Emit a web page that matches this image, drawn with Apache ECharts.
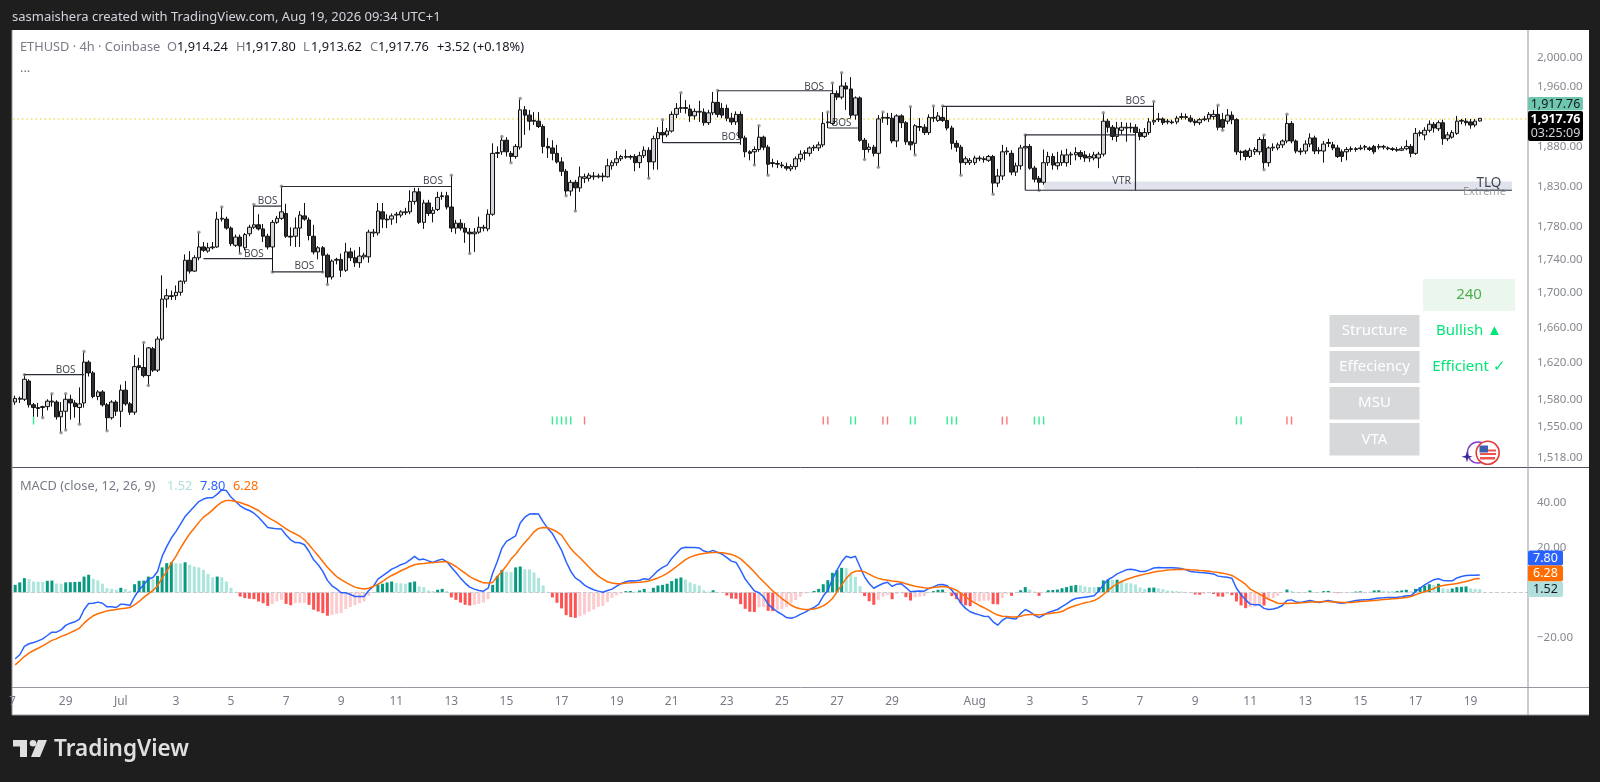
<!DOCTYPE html>
<html><head><meta charset="utf-8">
<style>html,body{margin:0;padding:0;background:#1e1e1e}#c{width:1600px;height:782px}</style>
<script src="https://cdn.jsdelivr.net/npm/echarts@6/dist/echarts.min.js"></script>
</head><body><div id="c"></div>
<script>
// [open, close, low, high] for each 4h candle, starting Jun 27 04:00
const candles = [
[1577,1581,1574,1584],[1580,1581,1576,1583],[1580,1602,1578,1607],[1600,1574,1571,1602],[1574,1571,1561,1576],[1570,1571,1561,1576],[1571,1572,1560,1573],[1572,1578,1568,1580],[1577,1578,1572,1586],[1577,1561,1558,1579],
[1561,1567,1544,1577],[1567,1580,1547,1586],[1580,1576,1558,1585],[1576,1572,1560,1579],[1571,1575,1553,1593],[1576,1621,1571,1633],[1621,1609,1605,1623],[1609,1583,1581,1611],[1583,1588,1579,1590],[1588,1574,1572,1590],
[1574,1560,1546,1576],[1560,1577,1558,1579],[1577,1567,1562,1579],[1567,1590,1550,1596],[1590,1575,1573,1600],[1575,1566,1563,1577],[1566,1616,1563,1629],[1617,1615,1612,1626],[1615,1606,1604,1643],[1606,1637,1595,1638],
[1636,1612,1610,1638],[1612,1647,1610,1650],[1647,1693,1645,1721],[1693,1697,1683,1705],[1696,1697,1692,1703],[1697,1701,1692,1709],[1701,1714,1697,1715],[1714,1739,1711,1746],[1739,1726,1723,1750],[1726,1742,1725,1745],
[1742,1755,1739,1773],[1755,1751,1749,1761],[1750,1754,1748,1760],[1754,1755,1752,1761],[1755,1789,1754,1798],[1789,1790,1786,1804],[1789,1778,1776,1792],[1778,1759,1756,1780],[1757,1767,1755,1770],[1767,1756,1747,1770],
[1754,1770,1751,1772],[1771,1779,1768,1782],[1779,1782,1777,1807],[1782,1777,1775,1795],[1777,1768,1761,1783],[1768,1755,1752,1771],[1755,1785,1725,1788],[1785,1790,1783,1793],[1790,1798,1788,1830],[1796,1768,1766,1808],
[1768,1767,1756,1779],[1768,1778,1755,1791],[1778,1794,1755,1799],[1793,1789,1787,1809],[1788,1769,1763,1791],[1768,1749,1746,1782],[1749,1754,1740,1756],[1754,1745,1725,1756],[1745,1719,1710,1747],[1719,1738,1716,1740],
[1739,1740,1734,1742],[1740,1727,1719,1747],[1727,1749,1725,1760],[1749,1742,1738,1754],[1742,1736,1731,1751],[1736,1744,1730,1755],[1743,1745,1740,1748],[1743,1773,1736,1776],[1772,1773,1767,1777],[1772,1799,1769,1809],
[1798,1789,1778,1809],[1789,1788,1778,1795],[1789,1793,1782,1796],[1794,1795,1784,1798],[1794,1798,1791,1800],[1797,1798,1794,1803],[1798,1811,1795,1825],[1811,1823,1807,1828],[1823,1785,1783,1828],[1785,1809,1777,1813],
[1809,1796,1793,1813],[1796,1800,1785,1804],[1801,1816,1799,1823],[1817,1818,1813,1823],[1818,1804,1801,1823],[1804,1778,1773,1844],[1778,1784,1771,1788],[1784,1778,1775,1789],[1778,1773,1760,1784],[1773,1771,1747,1778],
[1771,1773,1749,1778],[1773,1779,1771,1792],[1778,1779,1774,1782],[1777,1795,1774,1801],[1795,1872,1793,1885],[1872,1873,1866,1881],[1874,1889,1870,1894],[1889,1874,1868,1893],[1872,1868,1860,1875],[1868,1881,1865,1884],
[1880,1929,1877,1944],[1929,1922,1896,1934],[1922,1914,1902,1929],[1915,1914,1909,1926],[1914,1907,1905,1926],[1907,1881,1872,1910],[1881,1879,1866,1892],[1879,1872,1863,1889],[1872,1861,1859,1883],[1861,1849,1843,1867],
[1849,1824,1818,1852],[1824,1835,1818,1838],[1835,1828,1799,1838],[1828,1842,1823,1855],[1840,1842,1834,1846],[1840,1844,1836,1847],[1842,1843,1838,1848],[1842,1843,1840,1846],[1843,1842,1836,1847],[1842,1856,1841,1865],
[1856,1860,1851,1863],[1860,1865,1856,1875],[1865,1868,1862,1870],[1867,1868,1865,1877],[1868,1867,1864,1870],[1868,1860,1849,1871],[1860,1869,1853,1874],[1869,1876,1866,1881],[1876,1861,1840,1880],[1861,1891,1851,1895],
[1891,1899,1851,1906],[1899,1896,1886,1916],[1896,1901,1893,1905],[1901,1923,1899,1927],[1923,1931,1918,1938],[1931,1932,1925,1952],[1932,1931,1924,1942],[1930,1921,1913,1936],[1921,1927,1916,1931],[1926,1927,1913,1941],
[1926,1912,1908,1931],[1912,1925,1909,1929],[1925,1939,1922,1953],[1939,1923,1919,1955],[1931,1922,1918,1938],[1931,1918,1914,1936],[1918,1913,1909,1925],[1913,1923,1909,1927],[1923,1892,1883,1927],[1892,1874,1867,1895],
[1874,1872,1863,1876],[1874,1877,1857,1881],[1877,1893,1874,1908],[1893,1880,1876,1895],[1880,1858,1844,1883],[1860,1859,1854,1865],[1858,1859,1853,1863],[1857,1856,1853,1861],[1855,1853,1850,1860],[1852,1855,1849,1858],
[1855,1865,1851,1868],[1865,1871,1861,1876],[1872,1873,1863,1876],[1872,1879,1868,1881],[1879,1880,1875,1883],[1879,1883,1875,1887],[1883,1911,1880,1926],[1912,1913,1905,1926],[1911,1951,1909,1965],[1951,1946,1942,1955],
[1946,1961,1943,1979],[1961,1957,1929,1966],[1957,1922,1918,1973],[1922,1945,1916,1947],[1945,1889,1887,1947],[1889,1877,1864,1892],[1877,1880,1873,1885],[1880,1872,1868,1883],[1872,1917,1854,1922],[1918,1919,1912,1926],
[1919,1918,1909,1925],[1918,1888,1885,1925],[1888,1921,1880,1923],[1921,1912,1905,1923],[1912,1887,1883,1914],[1887,1883,1876,1933],[1885,1908,1870,1910],[1907,1906,1901,1918],[1906,1899,1896,1910],[1899,1919,1896,1923],
[1918,1919,1913,1934],[1915,1921,1913,1926],[1919,1915,1913,1934],[1915,1905,1902,1933],[1905,1885,1877,1908],[1885,1880,1874,1889],[1880,1860,1844,1883],[1860,1865,1857,1868],[1860,1863,1857,1866],[1860,1866,1857,1869],
[1865,1866,1862,1869],[1865,1864,1860,1868],[1863,1868,1861,1870],[1868,1834,1820,1870],[1834,1843,1829,1852],[1843,1874,1838,1883],[1874,1875,1870,1880],[1872,1848,1844,1876],[1848,1856,1843,1860],[1856,1879,1851,1883],
[1879,1881,1875,1896],[1881,1853,1851,1884],[1853,1839,1835,1856],[1840,1835,1825,1843],[1835,1860,1832,1877],[1860,1868,1856,1874],[1868,1857,1851,1872],[1856,1860,1851,1874],[1860,1870,1856,1876],[1860,1870,1855,1878],
[1870,1871,1857,1874],[1870,1873,1863,1880],[1873,1868,1864,1876],[1870,1866,1861,1875],[1866,1868,1861,1872],[1866,1870,1863,1874],[1866,1871,1853,1874],[1871,1914,1868,1925],[1914,1906,1899,1917],[1906,1894,1889,1909],
[1894,1905,1887,1913],[1902,1906,1897,1913],[1905,1906,1887,1912],[1906,1905,1899,1912],[1906,1899,1894,1910],[1899,1894,1889,1904],[1894,1899,1892,1905],[1899,1913,1896,1918],[1913,1915,1909,1940],[1916,1917,1913,1925],
[1917,1912,1909,1919],[1913,1914,1910,1917],[1913,1912,1910,1916],[1913,1918,1910,1921],[1919,1920,1916,1925],[1920,1919,1916,1924],[1918,1914,1912,1922],[1914,1912,1908,1917],[1912,1916,1909,1918],[1916,1917,1914,1921],
[1917,1923,1913,1926],[1920,1923,1916,1929],[1923,1906,1902,1935],[1916,1906,1902,1925],[1914,1922,1910,1930],[1922,1916,1910,1927],[1916,1874,1870,1918],[1874,1873,1863,1876],[1875,1868,1863,1877],[1868,1876,1866,1879],
[1874,1877,1870,1880],[1874,1890,1870,1893],[1890,1860,1851,1896],[1860,1879,1855,1881],[1879,1880,1875,1885],[1879,1883,1876,1886],[1883,1888,1879,1890],[1888,1911,1885,1923],[1911,1888,1885,1914],[1888,1875,1872,1890],
[1875,1874,1870,1879],[1875,1884,1871,1889],[1884,1892,1880,1898],[1892,1875,1871,1895],[1875,1876,1871,1880],[1875,1884,1860,1888],[1886,1885,1880,1891],[1883,1879,1876,1887],[1879,1868,1866,1883],[1874,1868,1861,1877],
[1874,1877,1863,1880],[1877,1878,1874,1881],[1878,1877,1874,1880],[1878,1879,1876,1883],[1880,1881,1876,1883],[1879,1877,1875,1881],[1881,1874,1871,1883],[1880,1881,1877,1884],[1880,1881,1877,1883],[1879,1878,1876,1881],
[1878,1877,1875,1880],[1877,1876,1874,1880],[1876,1878,1875,1881],[1878,1881,1876,1889],[1881,1872,1867,1884],[1872,1898,1870,1905],[1898,1899,1894,1902],[1896,1902,1889,1906],[1902,1910,1899,1915],[1910,1905,1899,1913],
[1904,1912,1901,1915],[1912,1891,1883,1916],[1891,1896,1888,1900],[1893,1899,1891,1902],[1898,1914,1896,1921],[1914,1915,1910,1917],[1914,1912,1908,1918],[1913,1909,1904,1917],[1909,1914,1906,1917],[1914.24,1917.76,1913.62,1917.80]
];
const macdLine = [
-29.6,-27.8,-24.1,-22.9,-22.3,-21.6,-20.7,-19.2,-17.7,-17.7,-16.7,-14.7,-13.7,-13.1,-11.9,-7.7,-4.9,-4.8,-4.3,-4.8,
-6.4,-6.4,-6.7,-5.2,-5.4,-5.8,-1.9,1.2,3.4,6.0,6.7,9.4,16.1,20.5,24.3,27.2,30.5,33.9,36.2,38.4,
40.6,41.7,42.3,42.3,43.9,45.8,45.5,42.6,40.6,38.7,37.4,36.6,35.4,33.6,31.4,29.0,28.7,28.4,28.3,25.7,
23.5,22.3,22.2,21.3,18.3,14.6,12.4,9.4,5.4,3.0,1.6,-0.1,-0.1,-0.9,-1.8,-1.8,-1.8,0.9,2.7,6.0,
7.4,8.9,10.4,11.3,12.4,13.1,14.6,16.1,14.6,14.9,14.1,13.4,14.3,14.9,13.8,11.3,8.9,6.4,4.2,2.4,
1.5,0.9,0.6,1.9,8.6,13.8,19.8,22.8,24.0,25.3,31.0,33.6,35.0,35.1,35.0,31.5,28.6,26.3,22.6,18.9,
13.7,9.5,6.5,5.2,3.3,2.1,1.2,0.6,0.1,0.9,1.5,2.8,4.0,4.8,5.2,5.1,5.5,6.1,5.8,7.7,
9.8,11.2,12.2,15.2,17.4,19.6,20.2,20.1,20.1,19.9,18.5,18.0,18.8,17.9,17.1,15.6,14.0,13.4,10.0,6.0,
3.3,0.7,-0.1,-1.9,-5.2,-7.1,-8.6,-9.8,-11.2,-11.5,-10.9,-9.8,-8.9,-7.6,-6.7,-5.2,-1.6,1.0,5.8,10.0,
13.7,16.2,15.5,16.2,11.5,7.0,4.0,1.9,3.0,4.0,4.6,2.7,3.7,3.9,2.2,0.3,0.6,0.7,0.6,1.8,
2.5,3.4,3.6,3.0,1.0,-1.6,-4.9,-7.1,-8.6,-9.4,-10.0,-10.6,-10.7,-13.1,-14.6,-12.4,-11.2,-11.6,-11.8,-9.4,
-7.6,-8.6,-10.1,-11.2,-10.1,-8.9,-8.3,-7.6,-6.3,-5.1,-3.6,-2.7,-2.4,-2.1,-1.8,-1.5,0.7,3.4,5.7,6.8,
8.3,9.2,10.1,10.4,10.0,9.4,9.4,10.1,10.9,11.2,11.0,11.0,11.0,10.9,10.7,10.1,9.4,9.1,8.9,8.8,
8.6,8.3,7.3,7.0,6.8,6.4,1.9,-1.0,-3.3,-5.2,-5.5,-5.5,-7.1,-7.6,-7.4,-6.8,-5.8,-3.6,-3.3,-4.2,
-4.5,-4.0,-3.6,-4.0,-4.5,-4.0,-3.6,-4.0,-4.6,-4.8,-4.5,-4.0,-3.6,-3.4,-3.3,-3.1,-2.8,-2.5,-2.4,-2.2,
-2.2,-2.1,-1.9,-1.5,-1.5,0.4,1.9,3.4,4.6,5.7,6.1,5.4,5.2,5.2,6.5,7.1,7.6,7.7,7.7,7.80
];
const signalLine = [
-32.3,-30.5,-28.6,-27.1,-25.9,-24.9,-23.8,-22.6,-21.4,-20.7,-19.6,-18.9,-17.9,-17.0,-15.9,-13.7,-11.9,-10.4,-9.5,-8.8,
-8.2,-7.9,-7.6,-7.3,-7.0,-6.7,-5.5,-4.0,-2.2,-0.6,0.9,3.0,6.4,9.4,13.1,16.1,19.8,23.1,26.2,28.7,
31.3,33.6,35.1,36.9,38.8,40.3,41.1,41.1,40.6,40.2,39.4,38.7,37.6,36.6,35.0,33.6,32.4,31.3,29.9,28.4,
27.2,26.2,25.1,23.5,21.3,18.8,16.4,13.8,11.3,9.1,7.1,5.7,4.5,3.4,2.4,1.9,1.6,1.9,2.7,3.7,
4.9,6.4,7.6,8.6,9.7,10.6,11.6,12.4,12.8,12.9,13.2,13.4,13.5,13.7,13.7,12.8,11.6,10.1,8.6,7.1,
6.0,5.1,4.3,4.2,4.5,7.1,9.4,11.9,14.9,17.1,19.8,22.3,24.6,27.1,28.6,29.0,28.9,28.1,27.1,25.6,
22.6,19.6,17.4,15.5,13.4,11.3,9.2,7.3,6.0,4.8,4.2,3.9,3.9,4.2,4.3,4.5,4.6,4.8,5.1,5.8,
6.5,7.4,8.5,10.0,11.5,13.1,14.7,15.8,16.5,17.1,17.4,17.7,17.9,17.9,17.7,17.4,17.0,16.2,15.0,13.2,
11.2,9.1,6.8,4.8,2.8,0.7,-1.0,-2.7,-4.2,-5.7,-6.7,-7.3,-7.6,-7.6,-7.4,-6.8,-6.0,-4.6,-2.7,0.3,
3.3,6.3,8.5,9.5,9.7,9.2,8.2,7.1,6.3,5.8,5.5,5.1,4.9,4.6,3.9,3.3,2.8,2.4,2.1,1.9,
2.2,2.5,2.7,2.4,1.9,1.0,-0.4,-1.9,-3.4,-4.6,-5.8,-6.8,-7.9,-9.1,-10.1,-10.6,-10.7,-10.9,-10.9,-10.6,
-10.0,-9.8,-9.8,-10.0,-9.7,-9.5,-9.2,-8.9,-8.5,-7.4,-6.5,-5.8,-5.2,-4.6,-4.2,-3.6,-2.5,-0.9,0.9,2.5,
3.9,4.9,5.8,6.5,7.1,7.7,8.2,8.6,9.1,9.5,9.7,10.0,10.1,10.3,10.4,10.3,10.1,10.0,9.8,9.7,
9.5,9.2,8.9,8.6,8.2,7.6,6.4,5.1,3.6,1.5,0.4,-0.7,-1.9,-3.0,-3.9,-4.8,-4.9,-4.9,-4.8,-4.8,
-4.6,-4.5,-4.3,-4.3,-4.2,-4.0,-4.0,-4.2,-4.3,-4.5,-4.5,-4.5,-4.2,-4.0,-3.9,-3.7,-3.6,-3.4,-3.1,-3.0,
-2.8,-2.7,-2.5,-2.2,-1.8,-1.0,-0.3,0.3,1.0,1.8,2.7,3.1,3.4,3.7,4.0,4.5,4.9,5.5,6.1,6.28
];
const histogram = [
3.4,4.5,6.4,6.0,4.9,4.8,4.7,5.2,5.3,4.0,3.9,4.5,4.6,4.7,4.8,7.1,7.9,6.1,5.4,3.9,
1.9,1.6,1.2,2.1,1.6,0.7,3.7,5.2,5.3,7.1,6.0,7.4,11.2,13.1,13.5,13.1,13.0,13.5,12.4,11.6,
11.2,10.1,8.3,6.8,7.1,6.8,4.9,2.1,0.3,-1.8,-2.5,-2.8,-3.0,-4.0,-4.8,-6.0,-5.1,-4.0,-3.3,-5.1,
-5.7,-4.8,-4.7,-4.6,-5.5,-7.7,-8.5,-9.2,-10.4,-10.0,-9.5,-9.2,-7.4,-6.5,-5.7,-4.8,-4.0,-1.5,0.2,3.6,
3.9,4.5,4.9,4.2,4.1,3.9,4.5,4.9,2.7,2.4,0.9,0.6,1.2,1.6,0.6,-2.2,-3.3,-4.5,-5.5,-5.8,
-5.5,-5.1,-4.5,-3.0,3.4,7.4,10.1,9.2,9.1,11.2,11.6,10.4,10.3,8.9,6.5,3.1,0.3,-2.2,-4.6,-7.1,
-10.1,-11.0,-11.3,-10.6,-9.8,-8.6,-7.6,-6.4,-6.0,-4.2,-2.4,-1.3,-0.4,0.6,0.7,0.4,0.9,1.6,0.4,2.1,
3.1,3.4,3.9,5.1,6.2,6.7,5.8,4.5,3.7,3.1,1.0,0.4,1.0,0.1,0.1,-1.3,-2.7,-2.8,-5.2,-7.3,
-8.6,-8.7,-6.7,-6.5,-8.2,-8.3,-7.9,-7.3,-6.4,-4.9,-3.4,-1.9,-0.4,-0.2,0.7,1.6,3.7,5.5,8.8,10.0,
11.0,10.9,8.2,7.0,2.8,-1.6,-3.9,-5.5,-3.4,-1.9,-1.2,-3.0,-0.7,-0.4,-2.1,-3.6,-2.2,-1.9,-1.6,0.1,
0.6,1.2,1.3,0.1,-1.6,-3.0,-4.9,-5.7,-6.1,-4.2,-4.1,-3.7,-3.6,-5.2,-5.3,-2.4,-0.7,-1.5,-0.4,1.0,
2.4,1.3,0.4,-1.5,-0.1,1.0,1.1,1.3,1.9,2.4,3.0,3.3,3.2,2.7,2.4,2.3,2.4,5.4,5.7,5.6,
5.7,5.1,4.2,4.1,3.6,2.2,1.6,2.1,2.2,1.9,1.5,0.9,0.7,0.6,0.4,0.3,-0.2,-0.9,-1.0,-0.6,
-0.3,-0.7,-1.8,-1.9,-0.6,-1.2,-4.0,-5.8,-7.0,-6.5,-6.3,-5.7,-5.8,-3.3,-2.5,-1.5,-0.1,1.3,0.7,0.3,
-0.1,-0.1,0.9,0.3,0.1,0.6,0.7,0.1,-0.3,-0.2,-0.1,0.1,0.4,0.5,0.3,0.3,0.9,1.0,0.7,0.6,
0.6,0.7,0.9,1.2,0.6,1.6,2.4,3.0,3.7,3.4,3.9,1.9,1.5,1.8,2.4,2.5,2.7,1.8,1.6,1.52
];
const priceTicks = [1518,1550,1580,1620,1660,1700,1740,1780,1830,1880,1960,2000];
const macdTicks = [-20,20,40];
const tickDays = ['06-29','07-01','07-03','07-05','07-07','07-09','07-11','07-13','07-15','07-17','07-19','07-21','07-23','07-25','07-27','07-29','08-01','08-03','08-05','08-07','08-09','08-11','08-13','08-15','08-17','08-19'];
const tickLabels = ['29','Jul','3','5','7','9','11','13','15','17','19','21','23','25','27','29','Aug','3','5','7','9','11','13','15','17','19'];
const lastPrice = 1917.76;
// candle number (1 = first candle), price
const bosSegments = [[3,16,1607],[42,57,1741],[53,59,1805],[57,68,1725],[59,96,1829.7],[142,159,1886],[154,179,1954.6],[178,185,1905],[203,249,1933.6]];
const bosLabels = [[12.4,1612],[53.2,1746],[55.8,1811],[64.4,1731.5],[92.4,1836.5],[156.6,1893],[175.3,1960],[181.4,1911.5],[245.3,1940.5]];
const boxSegments = [[221,245,1896],[221,327,1825]];
const boxVerticals = [[221,1896,1825],[245,1896,1825]];
const swingHighs = [3,9,12,16,29,41,46,53,59,96,107,111,146,154,163,178,179,181,190,196,201,203,142,221,238,249,263,273,278];
const swingLows = [7,11,12,15,21,30,50,57,68,69,100,109,121,123,139,162,165,186,189,197,207,214,224,264,273];
const signalGreen = [5,118,119,120,121,122,183,184,196,197,204,205,206,223,224,225,267,268];
const signalRed = [125,177,178,190,191,216,217,278,279];
const signalPrice = 1557;

const SLOTS = 330;
const categories = [];
for (let i = 1; i <= SLOTS; i++) {
  const d = new Date(Date.UTC(2026, 5, 27, 4 * i));
  const p = n => String(n).padStart(2, '0');
  categories.push(p(d.getUTCMonth() + 1) + '-' + p(d.getUTCDate()) + ' ' + p(d.getUTCHours()));
}
const tickMap = {};
tickDays.forEach((d, k) => tickMap[d + ' 00'] = tickLabels[k]);
const ix = n => n - 1;

const F = '"Noto Sans", sans-serif';
const GREY = '#787b86';
const txt = (x, y, text, fill, size, extra) => ({type:'text', z:100, silent:true,
  style:Object.assign({x, y, text, fill, font:(extra&&extra.weight||'normal')+' '+size+'px '+F,
    textAlign:extra&&extra.align||'left', textVerticalAlign:'middle'})});
const rect = (x, y, w, h, fill, z, r) => ({type:'rect', z:z===undefined?50:z, silent:true, shape:{x,y,width:w,height:h,r:r||0}, style:{fill}});
const ln = (x1,y1,x2,y2,c,w) => ({type:'line', z:60, silent:true, shape:{x1,y1,x2,y2}, style:{stroke:c, lineWidth:w||1}});
const poly = (pts, fill) => ({type:'polygon', z:100, silent:true, shape:{points:pts}, style:{fill}});

const graphics = [
  rect(12,30,1577,685,'#ffffff',-10),
  txt(12,17,'sasmaishera created with TradingView.com, Aug 19, 2026 09:34 UTC+1','#d1d4dc',13),
  txt(20,47.5,'ETHUSD · 4h · Coinbase',GREY,12.8),
  txt(167,47.5,'O',GREY,12.8),txt(177,47.5,'1,914.24','#131722',12.8),
  txt(236,47.5,'H',GREY,12.8),txt(245,47.5,'1,917.80','#131722',12.8),
  txt(303,47.5,'L',GREY,12.8),txt(311,47.5,'1,913.62','#131722',12.8),
  txt(370,47.5,'C',GREY,12.8),txt(378,47.5,'1,917.76','#131722',12.8),
  txt(437,47.5,'+3.52 (+0.18%)','#131722',12.8),
  txt(20,68,'...',GREY,12.8),
  txt(20,486,'MACD (close, 12, 26, 9)',GREY,12.8),
  txt(167,486,'1.52','#b2dfdb',12.8),txt(200,486,'7.80','#2962ff',12.8),txt(233,486,'6.28','#ff6d00',12.8),
  txt(9,702,'7',GREY,12),
  ln(12,467.5,1589,467.5,'#50535e',1),
  ln(12,687.5,1589,687.5,'#9598a1',1),
  ln(1528,30,1528,715,'#9598a1',1),
  ln(12,30,12,715,'#9598a1',1),
  ln(12,715,1589,715,'#9598a1',1),
  // price badges
  rect(1528,97,55,13.5,'#6fc7ae',70,2),txt(1555.5,104,'1,917.76','#131722',12.5,{align:'center'}),
  rect(1528,111,55,30,'#000000',70,2),txt(1555.5,119,'1,917.76','#ffffff',12.5,{align:'center',weight:'bold'}),txt(1555.5,133,'03:25:09','#d1d4dc',12.5,{align:'center'}),
  rect(1528,550.5,35,15,'#2962ff',70,2),txt(1545.5,558,'7.80','#ffffff',12.5,{align:'center'}),
  rect(1528,565.5,35,16,'#ff6d00',70,2),txt(1545.5,573.5,'6.28','#ffffff',12.5,{align:'center'}),
  rect(1528,581.5,35,15.5,'#b2dfdb',70,2),txt(1545.5,589,'1.52','#131722',12.5,{align:'center'}),
  // status table
  rect(1423,279,92,32,'#ebf6ed'),txt(1469,295,'240','#4caf50',15,{align:'center'}),
  rect(1329.5,315,90,32,'#d6d8da'),txt(1374.5,331,'Structure','#ffffff',15,{align:'center'}),
  rect(1329.5,351,90,32,'#d6d8da'),txt(1374.5,367,'Effeciency','#ffffff',15,{align:'center'}),
  rect(1329.5,387,90,32.5,'#d6d8da'),txt(1374.5,403,'MSU','#ffffff',15,{align:'center'}),
  rect(1329.5,423,90,32.5,'#d6d8da'),txt(1374.5,439.5,'VTA','#ffffff',15,{align:'center'}),
  txt(1469,331,'Bullish ▲','#00e676',15,{align:'center'}),
  txt(1469,367,'Efficient ✓','#00e676',15,{align:'center'}),
  // small logo
  {type:'circle',z:90,silent:true,shape:{cx:1478,cy:452.5,r:10.5},style:{fill:'none',stroke:'#7b3fc8',lineWidth:1.5}},
  poly([[1467,451],[1468.2,455.5],[1472.5,456.7],[1468.2,458],[1467,462.5],[1465.8,458],[1461.5,456.7],[1465.8,455.5]],'#3a2a9c'),
  {type:'circle',z:95,silent:true,shape:{cx:1487.7,cy:452.7,r:11.5},style:{fill:'#ffffff',stroke:'#e53935',lineWidth:1.6}},
  {type:'rect',z:97,silent:true,shape:{x:1480,y:449.5,width:16,height:2},style:{fill:'#ef5350'}},
  {type:'rect',z:97,silent:true,shape:{x:1480,y:453,width:16,height:2},style:{fill:'#ef5350'}},
  {type:'rect',z:97,silent:true,shape:{x:1480,y:457,width:15,height:2.5},style:{fill:'#ef5350'}},
  {type:'rect',z:98,silent:true,shape:{x:1479.5,y:445.5,width:8.5,height:7},style:{fill:'#3f5fae'}},
  // TradingView logo
  poly([[13,740],[27,740],[27,757],[20,757],[20,746.5],[13,746.5]],'#e0e0e0'),
  {type:'circle',z:100,silent:true,shape:{cx:33,cy:743.3,r:3.3},style:{fill:'#e0e0e0'}},
  poly([[38,740],[47,740],[40,757],[31,757]],'#e0e0e0'),
  txt(54,749.5,'TradingView','#e0e0e0',22.5,{weight:'600'})
];

const series = [
  {type:'candlestick', name:'ETHUSD', xAxisIndex:0, yAxisIndex:0, data:candles, barWidth:4, z:5,
   itemStyle:{color:'#d4d5da', color0:'#2e2e32', borderColor:'#111111', borderColor0:'#111111', borderWidth:1},
   markLine:{silent:true, symbol:'none', animation:false, label:{show:false},
     lineStyle:{color:'#f0dc60', type:[1.5,3], width:1.5}, data:[{yAxis:lastPrice}]},
   markArea:{silent:true, animation:false, itemStyle:{color:'#e0e3eb'}, label:{show:false},
     data:[[{coord:[ix(225),1836]},{coord:[ix(327),1825.2]}]]}},
  {type:'scatter', name:'swings', xAxisIndex:0, yAxisIndex:0, symbolSize:3.5, z:6, silent:true, itemStyle:{color:'#8a8a8a'},
   data:swingHighs.map(n=>[ix(n),candles[ix(n)][3]]).concat(swingLows.map(n=>[ix(n),candles[ix(n)][2]]))},
  {type:'scatter', xAxisIndex:0, yAxisIndex:0, symbol:'rect', symbolSize:[1.4,8], z:6, silent:true, itemStyle:{color:'#00e676'},
   data:signalGreen.map(n=>[ix(n),signalPrice])},
  {type:'scatter', xAxisIndex:0, yAxisIndex:0, symbol:'rect', symbolSize:[1.4,8], z:6, silent:true, itemStyle:{color:'#ff5252'},
   data:signalRed.map(n=>[ix(n),signalPrice])},
  {type:'scatter', xAxisIndex:0, yAxisIndex:0, symbolSize:0, z:8, silent:true,
   label:{show:true, position:'inside', formatter:'BOS', color:'#131722', fontSize:10, fontFamily:F},
   data:bosLabels.map(b=>[ix(b[0]),b[1]])},
  {type:'scatter', xAxisIndex:0, yAxisIndex:0, symbolSize:0, z:8, silent:true,
   label:{show:true, position:'inside', formatter:p=>p.data[2], color:'#131722', fontSize:10.5, fontFamily:F},
   data:[[ix(241.8),1837,'VTR']]},
  {type:'scatter', xAxisIndex:0, yAxisIndex:0, symbolSize:0, z:8, silent:true,
   label:{show:true, position:'inside', formatter:p=>p.data[2], color:'#131722', fontSize:13.5, fontFamily:F},
   data:[[ix(322),1834,'TLQ']]},
  {type:'scatter', xAxisIndex:0, yAxisIndex:0, symbolSize:0, z:8, silent:true,
   label:{show:true, position:'inside', formatter:p=>p.data[2], color:'#84878f', fontSize:11, fontFamily:F},
   data:[[ix(320.8),1823,'Extreme']]},
  {type:'bar', name:'Histogram', xAxisIndex:1, yAxisIndex:1, barWidth:3, z:3, silent:true,
   data:histogram.map((v,k)=>{
     const prev = k ? histogram[k-1] : 0;
     const c = v>=0 ? (v>prev?'#089981':'#ace5dc') : (v<prev?'#ff5252':'#fccbcd');
     return {value:v, itemStyle:{color:c}};
   }),
   markLine:{silent:true, symbol:'none', animation:false, label:{show:false},
     lineStyle:{color:'#c8cad0', type:'dashed', width:1}, data:[{yAxis:0}]}},
  {type:'line', name:'MACD', xAxisIndex:1, yAxisIndex:1, data:macdLine, showSymbol:false, symbol:'none', z:5, silent:true, lineStyle:{color:'#2962ff', width:1.5}},
  {type:'line', name:'Signal', xAxisIndex:1, yAxisIndex:1, data:signalLine, showSymbol:false, symbol:'none', z:6, silent:true, lineStyle:{color:'#ff6d00', width:1.5}}
];
bosSegments.forEach(s=>series.push({type:'line', xAxisIndex:0, yAxisIndex:0, symbol:'none', z:7, silent:true,
  lineStyle:{color:'#2a2e39', width:1.2}, data:[[ix(s[0]),s[2]],[ix(s[1]),s[2]]]}));
boxSegments.forEach(s=>series.push({type:'line', xAxisIndex:0, yAxisIndex:0, symbol:'none', z:7, silent:true,
  lineStyle:{color:'#2a2e39', width:1.2}, data:[[ix(s[0]),s[2]],[ix(s[1]),s[2]]]}));
boxVerticals.forEach(s=>series.push({type:'line', xAxisIndex:0, yAxisIndex:0, symbol:'none', z:7, silent:true,
  lineStyle:{color:'#2a2e39', width:1.2}, data:[[ix(s[0]),s[1]],[ix(s[0]),s[2]]]}));

const chart = echarts.init(document.getElementById('c'), null, {renderer:'canvas', width:1600, height:782});
chart.setOption({
  animation:false,
  backgroundColor:'#1e1e1e',
  graphic:{elements:graphics},
  grid:[
    {left:12.9, top:30, width:1515.1, height:437.3},
    {left:12.9, top:467.5, width:1515.1, height:219.5}
  ],
  xAxis:[
    {type:'category', gridIndex:0, data:categories, axisLine:{show:false}, axisTick:{show:false}, axisLabel:{show:false}, splitLine:{show:false}},
    {type:'category', gridIndex:1, data:categories, axisLine:{show:false}, axisTick:{show:false}, splitLine:{show:false},
     axisLabel:{color:GREY, fontSize:12, fontFamily:F, margin:9, interval:(k,v)=>tickMap[v]!==undefined, formatter:v=>tickMap[v]||''}}
  ],
  yAxis:[
    {type:'log', gridIndex:0, position:'right', min:1507.6, max:2038.2, scale:true, axisLine:{show:false}, axisTick:{show:false}, splitLine:{show:false},
     axisLabel:{customValues:priceTicks, color:'#85888f', fontSize:11.5, fontFamily:F, margin:9,
       formatter:v=>Number(v).toLocaleString('en-US',{minimumFractionDigits:2,maximumFractionDigits:2})}},
    {type:'value', gridIndex:1, position:'right', min:-42.2, max:55.8, axisLine:{show:false}, axisTick:{show:false}, splitLine:{show:false},
     axisLabel:{customValues:macdTicks, color:'#85888f', fontSize:11.5, fontFamily:F, margin:9,
       formatter:v=>(v<0?'\u2212'+Math.abs(v):v).toString()+'.00'}}
  ],
  series
});
</script></body></html>
